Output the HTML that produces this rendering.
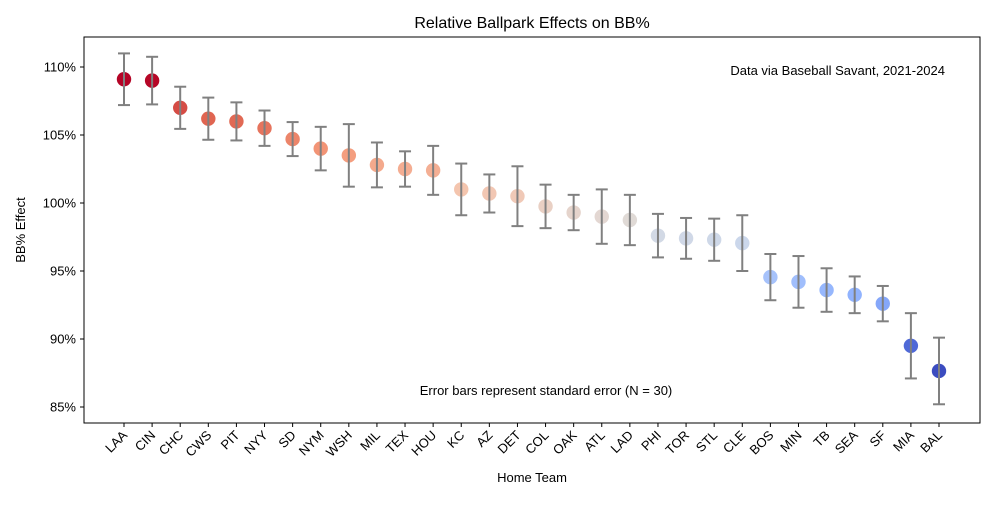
<!DOCTYPE html>
<html><head><meta charset="utf-8"><style>
body{margin:0;background:#fff;font-family:"Liberation Sans","DejaVu Sans",sans-serif}
svg text{font-family:"Liberation Sans","DejaVu Sans",sans-serif}
</style></head><body>
<svg id="chart" width="1000" height="500" xmlns="http://www.w3.org/2000/svg">
<rect width="1000" height="500" fill="#fff"/>
<text x="532" y="28" font-size="16" text-anchor="middle">Relative Ballpark Effects on BB%</text>
<rect x="84" y="37" width="896" height="386" fill="none" stroke="#000" stroke-width="1"/>
<g id="yaxis"></g><g id="xaxis"></g><g id="marks"></g>
<text x="945" y="75" font-size="13" text-anchor="end">Data via Baseball Savant, 2021-2024</text>
<text x="546" y="395" font-size="13" text-anchor="middle">Error bars represent standard error (N = 30)</text>
<text x="532" y="482" font-size="13" text-anchor="middle">Home Team</text>
<text x="25" y="230" font-size="13" text-anchor="middle" transform="rotate(-90 25 230)">BB% Effect</text>
</svg>
<script>
const teams=["LAA","CIN","CHC","CWS","PIT","NYY","SD","NYM","WSH","MIL","TEX","HOU","KC","AZ","DET","COL","OAK","ATL","LAD","PHI","TOR","STL","CLE","BOS","MIN","TB","SEA","SF","MIA","BAL"];
const effects=[109.1,109.0,107.0,106.2,106.0,105.5,104.7,104.0,103.5,102.8,102.5,102.4,101.0,100.7,100.5,99.75,99.3,99.0,98.75,97.6,97.4,97.3,97.05,94.55,94.2,93.6,93.25,92.6,89.5,87.65];
const stderrs=[1.9,1.75,1.55,1.55,1.4,1.3,1.25,1.6,2.3,1.65,1.3,1.8,1.9,1.4,2.2,1.6,1.3,2.0,1.85,1.6,1.5,1.55,2.05,1.7,1.9,1.6,1.35,1.3,2.4,2.45];
const yTicks=[85,90,95,100,105,110];
const NS="http://www.w3.org/2000/svg";
const xS=i=>124+i*(939-124)/29;
const yS=v=>67+(110-v)*13.6;
const stops=[[59,76,192],[88,118,226],[141,176,254],[184,208,249],[221,221,221],[245,196,173],[244,154,123],[222,96,77],[180,4,38]];
function cw(t){t=Math.max(0,Math.min(1,t));const p=t*8,i=Math.min(7,Math.floor(p)),f=p-i;const a=stops[i],b=stops[i+1];return `rgb(${a.map((c,k)=>Math.round(c+(b[k]-c)*f)).join(",")})`;}
function mk(tag,at,parent){const e=document.createElementNS(NS,tag);for(const k in at)e.setAttribute(k,at[k]);parent.appendChild(e);return e;}
const ya=document.getElementById('yaxis'),xa=document.getElementById('xaxis'),mg=document.getElementById('marks');
yTicks.forEach(v=>{const y=yS(v);
const t=mk('line',{x1:80,x2:84,y1:y,y2:y,stroke:'#000'},ya);


const l=mk('text',{x:76,y:y+4.5,'font-size':13,'text-anchor':'end'},ya);l.textContent=v+'%';

});
const mn=Math.min(...effects),mx=Math.max(...effects);
teams.forEach((tm,i)=>{const x=xS(i);
const t=mk('line',{x1:x,x2:x,y1:423,y2:427,stroke:'#000'},xa);


const l=mk('text',{x:x+4,y:436,'font-size':13,'text-anchor':'end',transform:`rotate(-45 ${x+4} 436)`},xa);l.textContent=tm;


const v=effects[i],s=stderrs[i],y1=yS(v+s),y2=yS(v-s);
const g=mk('g',{},mg);


mk('circle',{cx:x,cy:yS(v),r:7.2,fill:cw((v-mn)/(mx-mn))},g);
mk('line',{x1:x,x2:x,y1:y1,y2:y2,stroke:'#808080','stroke-width':2},g);
mk('line',{x1:x-6,x2:x+6,y1:y1,y2:y1,stroke:'#808080','stroke-width':2},g);
mk('line',{x1:x-6,x2:x+6,y1:y2,y2:y2,stroke:'#808080','stroke-width':2},g);
});
</script>
</body></html>
